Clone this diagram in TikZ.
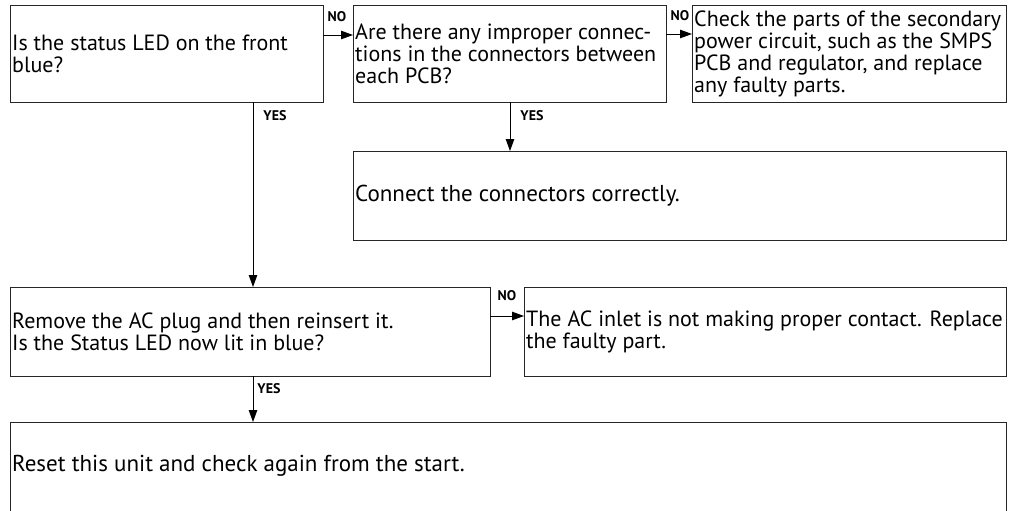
\documentclass[tikz,border=0pt]{standalone}
\usepackage{fontspec}
\setmainfont{PT Sans}
\usetikzlibrary{arrows.meta}
\begin{document}
\begin{tikzpicture}[x=1pt,y=-1pt,
  box/.style={draw=black!85, line width=0.9pt, anchor=north west, inner sep=0pt, outer sep=0pt},
  txt/.style={anchor=west, align=left, inner sep=0pt, font=\fontsize{22}{22}\selectfont},
  bigtxt/.style={txt, font=\fontsize{23}{23}\selectfont},
  lbl/.style={font=\bfseries\fontsize{14}{14}\selectfont, inner sep=0pt},
  arr/.style={-{Triangle[length=12pt,width=8.5pt]}, line width=0.9pt}]
\useasboundingbox (0,0) rectangle (1009,511);
\clip (0,0) rectangle (1009,511);
% boxes
\node[box, minimum width=313pt, minimum height=97pt] (b1) at (10,5) {};
\node[box, minimum width=313pt, minimum height=97pt] (b2) at (353,5) {};
\node[box, minimum width=314pt, minimum height=97pt] (b3) at (692,5) {};
\node[box, minimum width=653pt, minimum height=89pt] (b4) at (353,151) {};
\node[box, minimum width=480pt, minimum height=89pt] (b5) at (10,287) {};
\node[box, minimum width=482pt, minimum height=89pt] (b6) at (524,287) {};
\node[box, minimum width=996pt, minimum height=100pt] (b7) at (10,422) {};
% texts
\node[txt] (t1) at ([xshift=2pt]b1.west) {Is the status LED on the front\\blue?};
\node[txt] (t2) at ([xshift=2pt]b2.west) {Are there any improper connec-\\tions in the connectors between\\each PCB?};
\node[txt] (t3) at ([xshift=2pt]b3.west) {Check the parts of the secondary\\power circuit, such as the SMPS\\PCB and regulator, and replace\\any faulty parts.};
\node[bigtxt] (t4) at ([xshift=2pt]b4.west) {Connect the connectors correctly.};
\node[txt] (t5) at ([xshift=2pt]b5.west) {Remove the AC plug and then reinsert it.\\Is the Status LED now lit in blue?};
\node[txt] (t6) at ([xshift=2pt]b6.west) {The AC inlet is not making proper contact. Replace\\the faulty part.};
\node[bigtxt] (t7) at ([xshift=2pt,yshift=6pt]b7.west) {Reset this unit and check again from the start.};
% connector coordinates
\coordinate (xa) at (253,0);
\coordinate (xb) at (510,0);
% connectors
\draw[arr] ([yshift=-30pt]b1.north east) -- ([yshift=-30pt]b2.north west);
\draw[arr] ([yshift=-29pt]b2.north east) -- ([yshift=-29pt]b3.north west);
\draw[arr] ([yshift=-29pt]b5.north east) -- ([yshift=-29pt]b6.north west);
\draw[arr] (b1.south -| xa) -- (b5.north -| xa);
\draw[arr] (b2.south -| xb) -- (b4.north -| xb);
\draw[arr] (b5.south -| xa) -- (b7.north -| xa);
% labels
\node[lbl] (n1) at (337,17) {NO};
\node[lbl] (n2) at (680,16) {NO};
\node[lbl] (n3) at (507,296) {NO};
\node[lbl] (y1) at (275,116) {YES};
\node[lbl] (y2) at (532,116) {YES};
\node[lbl] (y3) at (269,389) {YES};
\end{tikzpicture}
\end{document}
